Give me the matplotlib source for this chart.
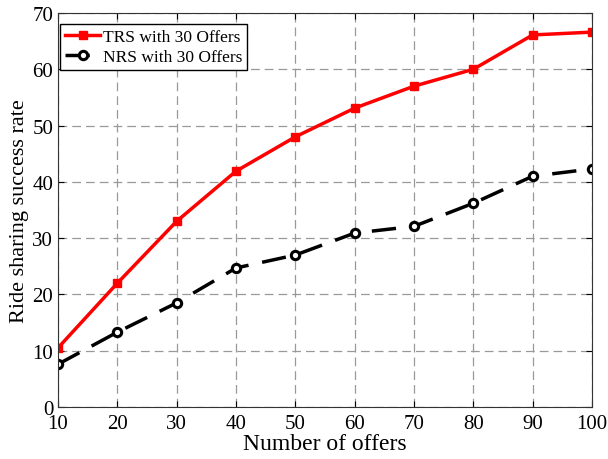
import matplotlib
matplotlib.use("Agg")
import matplotlib.pyplot as plt

offers = [10, 20, 30, 40, 50, 60, 70, 80, 90, 100]
trs_rate = [10.5, 22.0, 33.0, 41.9, 48.0, 53.1, 57.0, 60.0, 66.1, 66.6]
nrs_rate = [7.6, 13.3, 18.5, 24.7, 27.0, 30.9, 32.1, 36.2, 41.0, 42.3]

plt.rcParams['font.family'] = ['Liberation Serif', 'DejaVu Serif']

fig = plt.figure(figsize=(6.08, 4.6), dpi=100)
ax = fig.add_axes([0.0954, 0.113, 0.8783, 0.8566])

ax.plot(offers, trs_rate, color='red', linestyle='-', linewidth=2.5,
        marker='s', markersize=6, label='TRS with 30 Offers')
ax.plot(offers, nrs_rate, color='black', linestyle='--', linewidth=2.5,
        dashes=(7, 4), marker='o', markersize=6, markerfacecolor='white',
        markeredgewidth=2.2, label='NRS with 30 Offers')

ax.set_xlim(10, 100)
ax.set_ylim(0, 70)
ax.set_xticks(offers)
ax.set_yticks(range(0, 71, 10))
ax.grid(True, linestyle=(0, (7, 4)), color='#999999', linewidth=0.9)
ax.tick_params(direction='in', labelsize=15, length=4, top=True, right=True)
ax.tick_params(axis='x', pad=5)
for s in ax.spines.values():
    s.set_color('#333333')

ax.set_xlabel('Number of offers', fontsize=17, labelpad=0)
ax.set_ylabel('Ride sharing success rate', fontsize=16, labelpad=2)

leg = ax.legend(loc='upper left', bbox_to_anchor=(0.004, 0.972),
                fontsize=12.5, fancybox=False, framealpha=1,
                edgecolor='black', borderpad=0.3, labelspacing=0.2,
                handlelength=2.0, handletextpad=0.15, borderaxespad=0)
leg.get_frame().set_linewidth(1.0)

fig.savefig('out.png', dpi=100)
